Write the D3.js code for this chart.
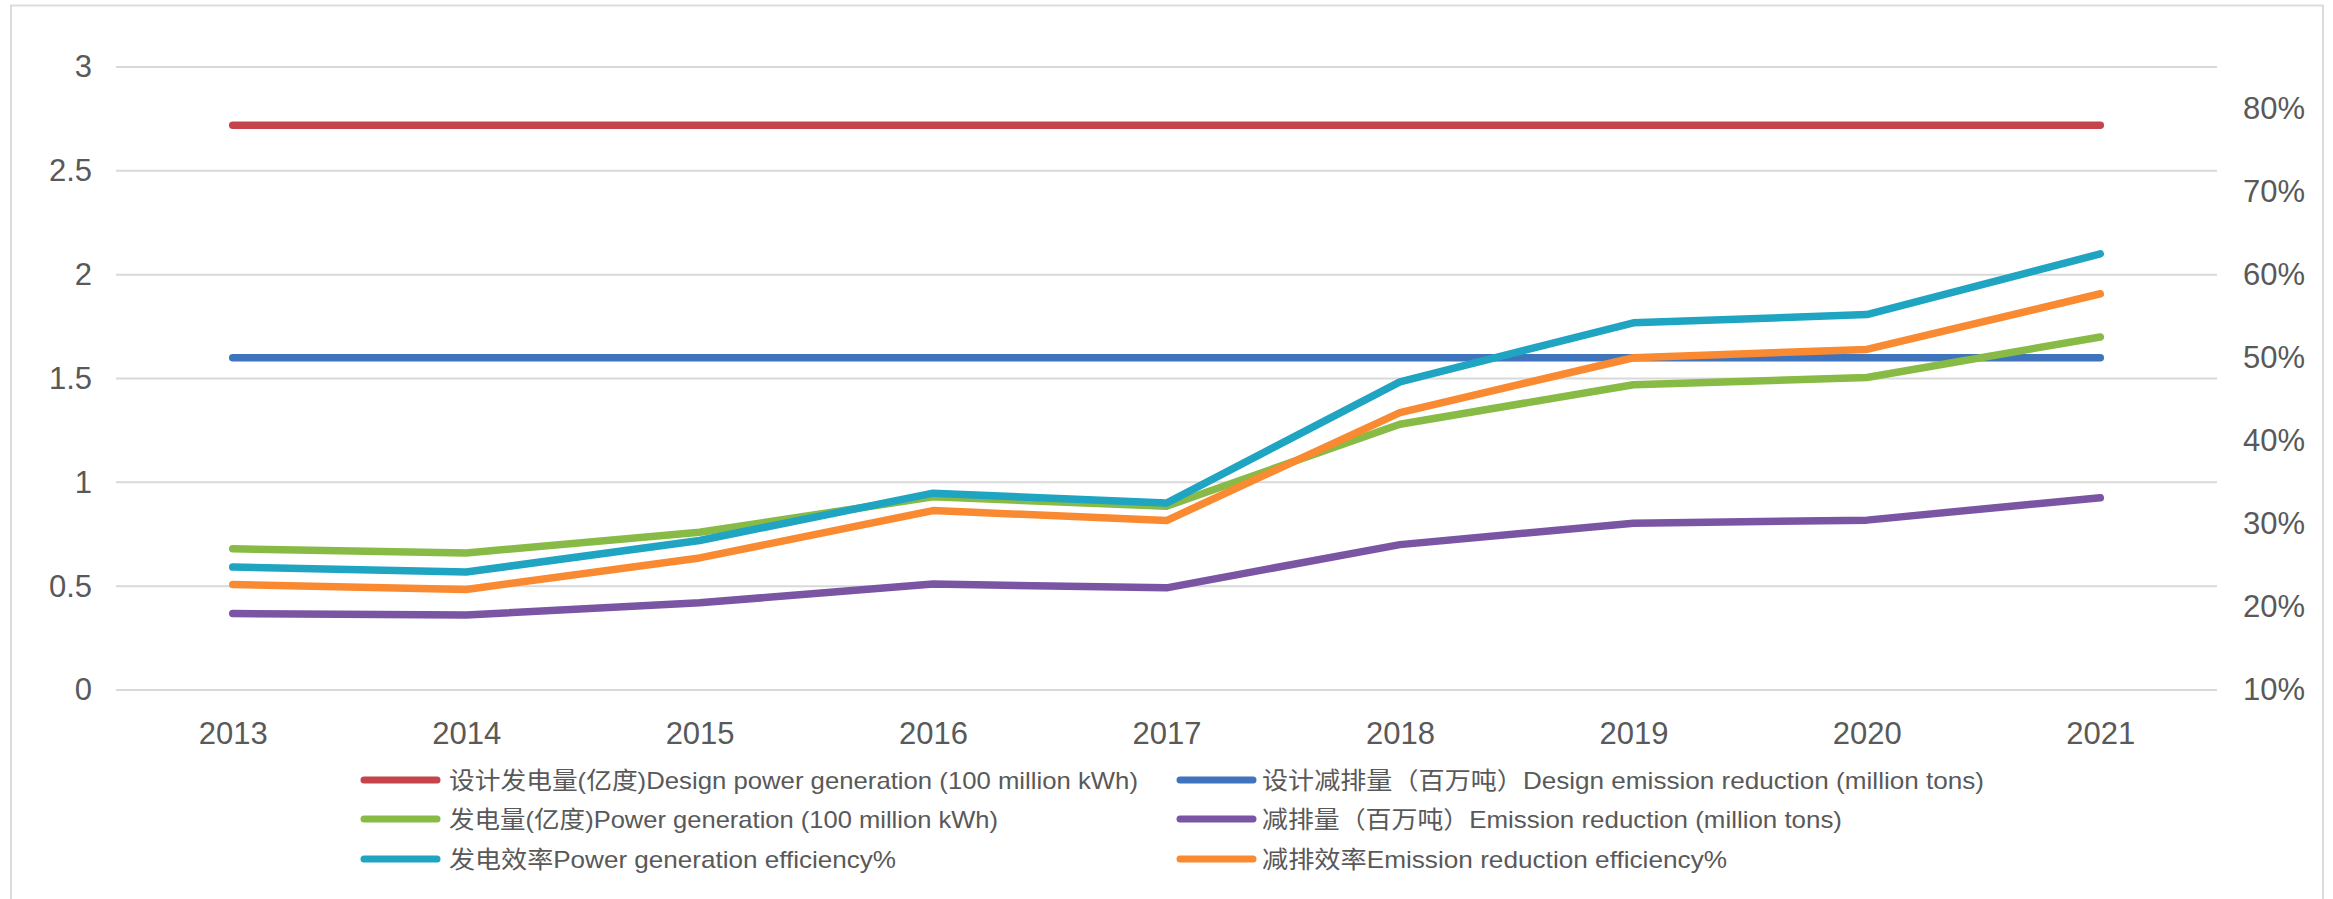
<!DOCTYPE html>
<html>
<head>
<meta charset="utf-8">
<script src="https://cdn.jsdelivr.net/npm/d3@7"></script>
<style>
  html, body { margin: 0; padding: 0; background: #fff; }
  svg { display: block; }
  text { font-family: "Liberation Sans", Arial, "Noto Sans CJK SC", sans-serif; fill: #595959; }
</style>
</head>
<body>
<svg id="chart" width="2333" height="899"></svg>
<script>
// Years on the category axis
const years = ["2013", "2014", "2015", "2016", "2017", "2018", "2019", "2020", "2021"];

// Left axis series (亿度 / 百万吨)
const designPower    = [2.72, 2.72, 2.72, 2.72, 2.72, 2.72, 2.72, 2.72, 2.72];
const designEmission = [1.6, 1.6, 1.6, 1.6, 1.6, 1.6, 1.6, 1.6, 1.6];
const powerGen       = [0.68, 0.66, 0.76, 0.93, 0.885, 1.28, 1.47, 1.505, 1.70];
const emissionRed    = [0.368, 0.361, 0.42, 0.51, 0.492, 0.70, 0.803, 0.818, 0.926];

// Right axis series (percent)
const powerEff    = [24.8, 24.2, 28.0, 33.7, 32.5, 47.1, 54.2, 55.2, 62.5];
const emissionEff = [22.7, 22.1, 25.9, 31.6, 30.4, 43.4, 50.0, 51.0, 57.7];

// Axis ticks
const leftTicks  = [0, 0.5, 1, 1.5, 2, 2.5, 3];
const rightTicks = [10, 20, 30, 40, 50, 60, 70, 80];

// Legend labels
const legendLabels = [
  "设计发电量(亿度)Design power generation (100 million kWh)",
  "设计减排量（百万吨）Design emission reduction (million tons)",
  "发电量(亿度)Power generation (100 million kWh)",
  "减排量（百万吨）Emission reduction (million tons)",
  "发电效率Power generation efficiency%",
  "减排效率Emission reduction efficiency%"
];

const svg = d3.select("#chart");
const W = 2333, H = 899;
const plot = { left: 116, right: 2217, top: 67, bottom: 690 };

// Outer frame
svg.append("rect")
  .attr("x", 11).attr("y", 5.5)
  .attr("width", 2312).attr("height", 920)
  .attr("fill", "none").attr("stroke", "#dcdcdc").attr("stroke-width", 2);

const x = d3.scalePoint().domain(years).range([plot.left, plot.right]).padding(0.5);
const yL = d3.scaleLinear().domain([0, 3]).range([plot.bottom, plot.top]);
const yR = d3.scaleLinear().domain([10, 85]).range([plot.bottom, plot.top]);

// Gridlines (left axis)
svg.append("g").selectAll("line").data(leftTicks).join("line")
  .attr("x1", plot.left).attr("x2", plot.right)
  .attr("y1", d => yL(d)).attr("y2", d => yL(d))
  .attr("stroke", "#d9d9d9").attr("stroke-width", 2);

// Left axis labels
const axisL = d3.axisLeft(yL).tickValues(leftTicks).tickSize(0).tickPadding(0)
  .tickFormat(d3.format("~g"));
const gL = svg.append("g").attr("transform", `translate(92,0)`).call(axisL);
gL.select(".domain").remove();
gL.selectAll("text").attr("font-size", 31).attr("fill", "#595959")
  .style("font-family", '"Liberation Sans", Arial, sans-serif');

// Right axis labels
const axisR = d3.axisRight(yR).tickValues(rightTicks).tickSize(0).tickPadding(0)
  .tickFormat(d => d + "%");
const gR = svg.append("g").attr("transform", `translate(2305,0)`).call(axisR);
gR.select(".domain").remove();
gR.selectAll("text").attr("font-size", 31).attr("fill", "#595959")
  .attr("text-anchor", "end")
  .style("font-family", '"Liberation Sans", Arial, sans-serif');

// Category axis labels
const axisB = d3.axisBottom(x).tickSize(0).tickPadding(0);
const gB = svg.append("g").attr("transform", `translate(0,744)`).call(axisB);
gB.select(".domain").remove();
gB.selectAll("text").attr("font-size", 31).attr("fill", "#595959")
  .attr("dy", 0)
  .style("font-family", '"Liberation Sans", Arial, sans-serif');

// Series definitions (drawing order)
const series = [
  { values: designPower,    axis: yL, color: "#C5444B", label: legendLabels[0] },
  { values: designEmission, axis: yL, color: "#3F74BC", label: legendLabels[1] },
  { values: powerGen,       axis: yL, color: "#87BB45", label: legendLabels[2] },
  { values: emissionRed,    axis: yL, color: "#7A55A3", label: legendLabels[3] },
  { values: powerEff,       axis: yR, color: "#1FA4C1", label: legendLabels[4] },
  { values: emissionEff,    axis: yR, color: "#F98A31", label: legendLabels[5] }
];

const lines = svg.append("g");
series.forEach(s => {
  const line = d3.line()
    .x((d, i) => x(years[i]))
    .y(d => s.axis(d));
  lines.append("path")
    .datum(s.values)
    .attr("d", line)
    .attr("fill", "none")
    .attr("stroke", s.color)
    .attr("stroke-width", 7.5)
    .attr("stroke-linejoin", "round")
    .attr("stroke-linecap", "round");
});

// Legend: two columns, three rows
const legendCols = [{ sx: 364, tx: 449 }, { sx: 1180, tx: 1262 }];
const legendRows = [780, 819, 859];
const legendWidths = [689, 722, 549, 580, 447, 465];
const legend = svg.append("g");
series.forEach((s, i) => {
  const col = legendCols[i % 2], row = legendRows[Math.floor(i / 2)];
  legend.append("line")
    .attr("x1", col.sx).attr("x2", col.sx + 73)
    .attr("y1", row).attr("y2", row)
    .attr("stroke", s.color).attr("stroke-width", 7)
    .attr("stroke-linecap", "round");
  legend.append("text")
    .attr("x", col.tx).attr("y", row).attr("dy", "0.36em")
    .attr("font-size", 24)
    .attr("textLength", legendWidths[i])
    .attr("lengthAdjust", "spacingAndGlyphs")
    .text(s.label);
});
</script>
</body>
</html>
